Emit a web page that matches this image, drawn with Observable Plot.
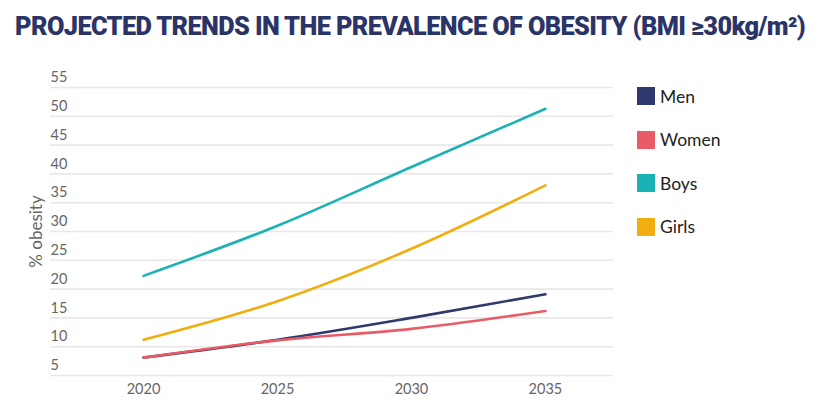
<!DOCTYPE html>
<html>
<head>
<meta charset="utf-8">
<script src="https://cdn.jsdelivr.net/npm/d3@7"></script>
<script src="https://cdn.jsdelivr.net/npm/@observablehq/plot@0.6"></script>
<style>
  html, body { margin: 0; padding: 0; background: #fff; }
  #wrap { position: relative; width: 820px; height: 415px; overflow: hidden; font-family: Lato, "Open Sans", sans-serif; }
  #title { position: absolute; left: 0; top: 12px; width: 820px; text-align: center; white-space: nowrap;
           font-family: Roboto, "Liberation Sans", sans-serif; font-weight: 900; font-size: 25px; color: #2b3467;
           letter-spacing: -0.6px; }
  #title span { display: inline-block; transform-origin: center; }
  #chart { position: absolute; left: 0; top: 55px; }
  #legend { position: absolute; left: 637px; top: 87px; }
  .item { display: flex; align-items: center; height: 18px; margin-bottom: 25.5px; font-size: 17.5px; color: #222; font-family: Lato, sans-serif; }
  .sw { width: 18px; height: 18px; margin-right: 5px; }
</style>
</head>
<body>
<div id="wrap">
  <div id="title"><span id="tt">PROJECTED TRENDS IN THE PREVALENCE OF OBESITY (BMI ≥30kg/m²)</span></div>
  <div id="chart"></div>
  <div id="legend"></div>
</div>
<script>
const years = [2020, 2025, 2030, 2035];
const men = [8.1, 11.2, 15.0, 19.1];
const women = [8.1, 11.1, 13.1, 16.2];
const boys = [22.3, 31.0, 41.2, 51.3];
const girls = [11.2, 17.9, 27.0, 38.0];
const seriesNames = ["Men", "Women", "Boys", "Girls"];
const seriesColors = ["#2e3a6d", "#e95b66", "#1ab2b4", "#f0ae10"];
const yTicks = [5, 10, 15, 20, 25, 30, 35, 40, 45, 50, 55];
const xTicks = [2020, 2025, 2030, 2035];

const valuesBy = {Men: men, Women: women, Boys: boys, Girls: girls};
const drawOrder = ["Boys", "Girls", "Men", "Women"];
const rows = drawOrder.flatMap(s => years.map((yr, i) => ({series: s, year: yr, value: valuesBy[s][i]})));

const chart = Plot.plot({
  width: 820,
  height: 360,
  marginLeft: 50,
  marginRight: 207,
  marginTop: 32,
  marginBottom: 40,
  style: {fontFamily: "Lato, sans-serif", background: "transparent"},
  x: {domain: [2016.53, 2037.54], axis: null},
  y: {domain: [5, 55], axis: null},
  color: {domain: seriesNames, range: seriesColors},
  marks: [
    Plot.ruleY(yTicks, {stroke: "#e8e8e8", strokeWidth: 1.6}),
    Plot.text(yTicks, {y: d => d, frameAnchor: "left", textAnchor: "start", dy: -10, fontSize: 14.5, fill: "#666"}),
    Plot.axisY({ticks: [], label: "% obesity", labelAnchor: "center", labelArrow: "none", labelOffset: 21, fontSize: 17, color: "#666"}),
    Plot.axisX(xTicks, {tickSize: 0, tickPadding: 8, fontSize: 14.5, color: "#666", label: null, tickFormat: d => String(d)}),
    Plot.line(rows, {x: "year", y: "value", z: "series", stroke: "series", strokeWidth: 2.6, curve: "monotone-x"})
  ]
});
document.getElementById("chart").appendChild(chart);

const legend = document.getElementById("legend");
seriesNames.forEach((n, i) => {
  const it = document.createElement("div");
  it.className = "item";
  it.innerHTML = `<div class="sw" style="background:${seriesColors[i]}"></div><span>${n}</span>`;
  legend.appendChild(it);
});

const tt = document.getElementById("tt");
const w = tt.getBoundingClientRect().width;
const target = 790;
tt.style.transform = `scaleX(${target / w})`;
</script>
</body>
</html>
